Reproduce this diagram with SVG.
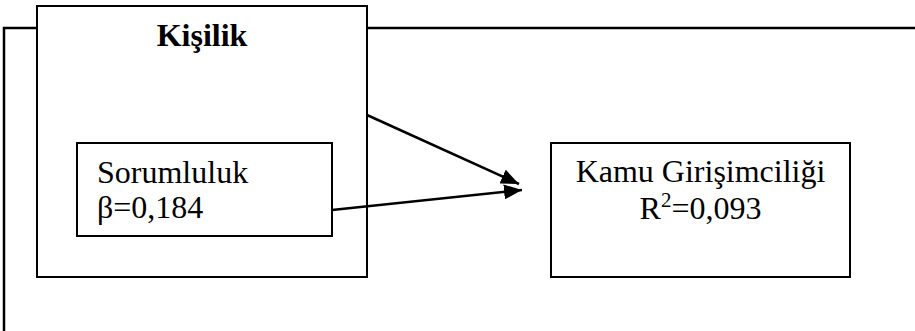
<svg xmlns="http://www.w3.org/2000/svg" width="915" height="331" viewBox="0 0 915 331">
<style>
.box{fill:#fff;stroke:#000;stroke-width:2}
.frame{fill:none;stroke:#000;stroke-width:2.5}
.t{font-family:"Liberation Serif","Times New Roman",serif;font-size:32px;fill:#000}
.b{font-weight:bold}
.c{stroke:#000;stroke-width:2.5;fill:none}
</style>
<defs>
<marker id="ah" viewBox="0 0 12 10" refX="12" refY="5" markerWidth="7.2" markerHeight="6" markerUnits="strokeWidth" orient="auto">
<path d="M0,0 L12,5 L0,10 z" fill="#000"/>
</marker>
</defs>
<g id="frame">
<path class="frame" d="M4,331 V28 H915"/>
</g>
<g id="kisilik">
<rect class="box" x="37" y="6" width="330" height="271"/>
<text class="t b" x="202" y="46" text-anchor="middle">Kişilik</text>
</g>
<g id="sorumluluk">
<rect class="box" x="77" y="143" width="255" height="93"/>
<text class="t" x="97" y="183">Sorumluluk</text>
<text class="t" x="97" y="218">β=0,184</text>
</g>
<g id="kamu">
<rect class="box" x="551" y="143" width="299" height="134"/>
<text class="t" x="700.5" y="182" text-anchor="middle">Kamu Girişimciliği</text>
<text class="t" x="700.5" y="219" text-anchor="middle">R<tspan font-size="21" dy="-12">2</tspan><tspan dy="12">=0,093</tspan></text>
</g>
<g id="connectors">
<line class="c" x1="367" y1="115" x2="519" y2="184" marker-end="url(#ah)"/>
<line class="c" x1="332" y1="210" x2="522" y2="190" marker-end="url(#ah)"/>
</g>
</svg>
